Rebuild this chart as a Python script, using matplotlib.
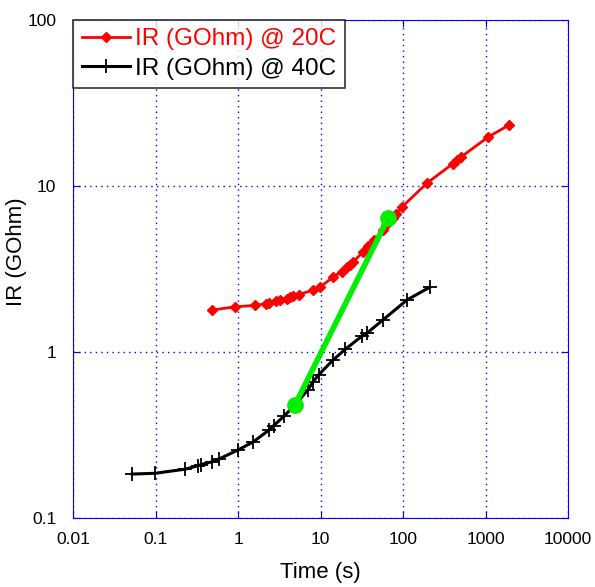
import matplotlib.pyplot as plt
from matplotlib.ticker import FixedLocator, NullLocator

plt.rcParams['font.family'] = ['Liberation Sans', 'DejaVu Sans']

# IR at 20C
t20 = [0.48, 0.92, 1.6, 2.18, 2.4, 2.9, 3.2, 3.9, 4.3, 4.6, 5.5, 8.1, 9.9, 14.2, 18, 21,
       22.8, 25, 32.7, 38, 45, 57, 62, 75, 82, 97, 195, 400, 452, 500, 1072, 1930]
ir20 = [1.79, 1.87, 1.91, 1.95, 1.98, 2.03, 2.06, 2.1, 2.14, 2.17, 2.22, 2.36, 2.46, 2.83,
        3.05, 3.25, 3.34, 3.5, 4.0, 4.35, 4.7, 5.43, 5.8, 6.4, 6.8, 7.47, 10.4, 13.6,
        14.3, 14.9, 19.7, 23.3]

# IR at 40C
t40 = [0.052, 0.099, 0.23, 0.33, 0.36, 0.48, 0.58, 1.0, 1.52, 2.4, 2.7, 3.6, 4.9, 7.0,
       8.1, 9.5, 14.2, 20, 32, 36.6, 57, 112, 212]
ir40 = [0.184, 0.186, 0.197, 0.207, 0.21, 0.218, 0.226, 0.257, 0.287, 0.340, 0.36, 0.41,
        0.48, 0.59, 0.66, 0.73, 0.895, 1.04, 1.25, 1.30, 1.56, 2.06, 2.46]

# slope line
t_fit = [4.9, 65.8]
ir_fit = [0.48, 6.4]

fig = plt.figure(figsize=(5.95, 5.87), dpi=100)
ax = fig.add_axes([0.1227, 0.1175, 0.832, 0.8485])

ax.plot(t20, ir20, color="red", lw=2, marker="D", ms=5, label="IR (GOhm) @ 20C")
ax.plot(t40, ir40, color="black", lw=2.2, marker="+", ms=10, mew=1.3, label="IR (GOhm) @ 40C")
ax.plot(t_fit, ir_fit, color="#00ee00", lw=4, marker="o", ms=11, zorder=5)

ax.set_xscale("log")
ax.set_yscale("log")
ax.set_xlim(0.01, 10000)
ax.set_ylim(0.1, 100)

ax.xaxis.set_major_locator(FixedLocator([0.01, 0.1, 1, 10, 100, 1000, 10000]))
ax.yaxis.set_major_locator(FixedLocator([0.1, 1, 10, 100]))
ax.xaxis.set_minor_locator(NullLocator())
ax.yaxis.set_minor_locator(NullLocator())
ax.set_xticklabels(["0.01", "0.1", "1", "10", "100", "1000", "10000"])
ax.set_yticklabels(["0.1", "1", "10", "100"])

ax.grid(True, color="blue", linestyle=(0, (1, 3)), lw=1)
for s in ax.spines.values():
    s.set_color("blue")
ax.tick_params(direction="in", color="blue", labelsize=12.5, top=True, right=True,
               length=5)
ax.tick_params(axis="x", pad=10)
ax.tick_params(axis="y", pad=12)

ax.set_xlabel("Time (s)", fontsize=16, va="center")
ax.set_ylabel("IR (GOhm)", fontsize=16, va="center")
ax.xaxis.set_label_coords(0.5, -0.11)
ax.yaxis.set_label_coords(-0.115, 0.534)

leg = ax.legend(loc="upper left", fontsize=17.5, frameon=True, fancybox=False,
                edgecolor="black", borderaxespad=0.0, handlelength=2.0,
                handletextpad=0.2, borderpad=0.35, labelspacing=0.3)
leg.get_frame().set_linewidth(1.2)
leg.get_texts()[0].set_color("red")

fig.savefig("out.png", dpi=100)
